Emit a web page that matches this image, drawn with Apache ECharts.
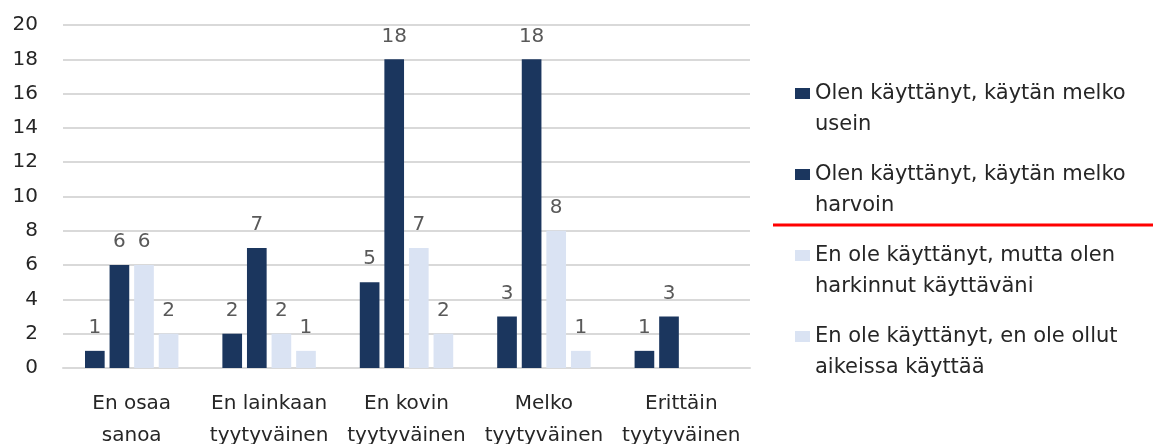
<!DOCTYPE html>
<html><head><meta charset="utf-8">
<script src="https://cdn.jsdelivr.net/npm/echarts@6/dist/echarts.min.js"></script>
<style>html,body{margin:0;padding:0;background:#fff}#c{width:1153px;height:444px}</style>
</head><body><div id="c"></div>
<script>
const categories = ['En osaa\nsanoa', 'En lainkaan\ntyytyväinen', 'En kovin\ntyytyväinen', 'Melko\ntyytyväinen', 'Erittäin\ntyytyväinen'];
const seriesNames = [
  'Olen käyttänyt, käytän melko\nusein',
  'Olen käyttänyt, käytän melko\nharvoin',
  'En ole käyttänyt, mutta olen\nharkinnut käyttäväni',
  'En ole käyttänyt, en ole ollut\naikeissa käyttää'
];
const usein = [1, 2, 5, 3, 1];
const harvoin = [6, 7, 18, 18, 3];
const harkinnut = [6, 2, 7, 8, null];
const eiAikeissa = [2, 1, 2, 1, null];
const yTicks = [0, 20, 2];

const FONT = 'DejaVu Sans';
const colors = ['#1B365E', '#1B365E', '#DAE3F3', '#DAE3F3'];
const values = [usein, harvoin, harkinnut, eiAikeissa];

const chart = echarts.init(document.getElementById('c'));
chart.setOption({
  animation: false,
  textStyle: { fontFamily: FONT },
  grid: { left: 63, right: 403, top: 25, bottom: 76, containLabel: false, outerBoundsMode: 'none' },
  legend: {
    orient: 'vertical',
    left: 795, top: 47,
    padding: 0,
    itemWidth: 15, itemHeight: 11,
    itemGap: -12,
    icon: 'rect',
    selectedMode: false,
    formatter: name => '\n' + name,
    textStyle: { fontFamily: FONT, fontSize: 21, color: '#262626', lineHeight: 31 },
    data: seriesNames
  },
  xAxis: {
    type: 'category',
    data: categories,
    axisLine: { show: true, lineStyle: { color: '#D9D9D9', width: 2 } },
    axisTick: { show: false },
    axisLabel: { fontFamily: FONT, fontSize: 20, color: '#262626', lineHeight: 32, margin: 20, interval: 0 }
  },
  yAxis: {
    type: 'value',
    min: yTicks[0], max: yTicks[1], interval: yTicks[2],
    axisLine: { show: false },
    axisTick: { show: false },
    splitLine: { lineStyle: { color: '#D9D9D9', width: 2 } },
    axisLabel: { fontFamily: FONT, fontSize: 20, color: '#262626', margin: 25 }
  },
  graphic: [{
    type: 'line',
    shape: { x1: 773, y1: 225, x2: 1153, y2: 225 },
    style: { stroke: '#FF0000', lineWidth: 3 }
  }],
  series: seriesNames.map((n, i) => ({
    name: n,
    type: 'bar',
    data: values[i],
    barGap: '25%',
    barCategoryGap: '32%',
    itemStyle: { color: colors[i] },
    label: { show: true, position: 'top', distance: 13, fontFamily: FONT, fontSize: 20, color: '#595959' }
  }))
});
</script></body></html>
